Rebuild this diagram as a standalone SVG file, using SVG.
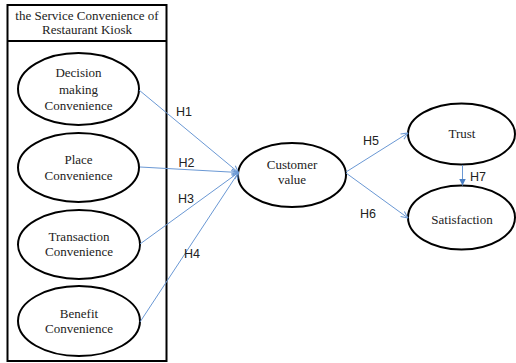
<svg xmlns="http://www.w3.org/2000/svg" width="516" height="363" viewBox="0 0 516 363" font-family="'Liberation Serif', 'Times New Roman', serif">
<defs>
<style>
text{font-family:"Liberation Serif","Times New Roman",serif;font-size:13px;fill:#222;text-anchor:middle}
.node ellipse{fill:#fff;stroke:#000;stroke-width:2}
.box{fill:none;stroke:#000;stroke-width:2}
.conn line{stroke:#6a98d4;stroke-width:1;fill:none}
text.lbl{font-family:"Liberation Sans",Arial,sans-serif;font-size:12.5px;fill:#222;text-anchor:start}
</style>
<marker id="open" viewBox="0 0 10 10" refX="9.5" refY="5" markerWidth="8" markerHeight="8" markerUnits="userSpaceOnUse" orient="auto">
<path d="M1,1 L9.5,5 L1,9" fill="none" stroke="#6a98d4" stroke-width="1.3"/>
</marker>
<marker id="solid" viewBox="0 0 10 10" refX="10" refY="5" markerWidth="7" markerHeight="7" markerUnits="userSpaceOnUse" orient="auto">
<path d="M0,0 L10,5 L0,10 Z" fill="#4a7fc4"/>
</marker>
</defs>
<rect width="516" height="363" fill="#fff"/>
<g id="group-box">
<rect class="box" x="7.5" y="5" width="159" height="356"/>
<line class="box" x1="7.5" y1="41" x2="166.5" y2="41"/>
<text x="87" y="19.5">the Service Convenience of</text>
<text x="87" y="34">Restaurant Kiosk</text>
</g>
<g id="decision" class="node">
<ellipse cx="78.5" cy="89" rx="60.5" ry="36"/>
<text x="78.5" y="77">Decision</text>
<text x="78.5" y="93.5">making</text>
<text x="78.5" y="110">Convenience</text>
</g>
<g id="place" class="node">
<ellipse cx="78.5" cy="167.5" rx="60.5" ry="34.5"/>
<text x="78.5" y="164">Place</text>
<text x="78.5" y="180">Convenience</text>
</g>
<g id="transaction" class="node">
<ellipse cx="79" cy="244.5" rx="61" ry="34.5"/>
<text x="79" y="241">Transaction</text>
<text x="79" y="256">Convenience</text>
</g>
<g id="benefit" class="node">
<ellipse cx="79" cy="321" rx="61" ry="35"/>
<text x="79" y="318">Benefit</text>
<text x="79" y="333">Convenience</text>
</g>
<g id="customer" class="node">
<ellipse cx="292" cy="175" rx="54" ry="32"/>
<text x="292" y="169">Customer</text>
<text x="292" y="184">value</text>
</g>
<g id="trust" class="node">
<ellipse cx="461.5" cy="134" rx="53.5" ry="30.5"/>
<text x="462" y="138">Trust</text>
</g>
<g id="satisfaction" class="node">
<ellipse cx="461.5" cy="217.5" rx="53.5" ry="32"/>
<text x="462" y="224">Satisfaction</text>
</g>
<g id="connectors" class="conn">
<line x1="139" y1="90" x2="238.5" y2="172.5" marker-end="url(#open)"/>
<line x1="140" y1="167" x2="238.5" y2="172.5" marker-end="url(#open)"/>
<line x1="140" y1="244" x2="238.5" y2="172.5" marker-end="url(#open)"/>
<line x1="140" y1="322" x2="238.5" y2="172.5" marker-end="url(#open)"/>
<line x1="346" y1="172" x2="408" y2="133" marker-end="url(#open)"/>
<line x1="346" y1="173" x2="408" y2="218" marker-end="url(#open)"/>
<line x1="462.5" y1="165" x2="462.5" y2="185.5" marker-end="url(#solid)"/>
</g>
<g id="labels">
<text class="lbl" x="176" y="116">H1</text>
<text class="lbl" x="178.5" y="167">H2</text>
<text class="lbl" x="178" y="203">H3</text>
<text class="lbl" x="184" y="258">H4</text>
<text class="lbl" x="363" y="145">H5</text>
<text class="lbl" x="360" y="218">H6</text>
<text class="lbl" x="470" y="181">H7</text>
</g>
</svg>
